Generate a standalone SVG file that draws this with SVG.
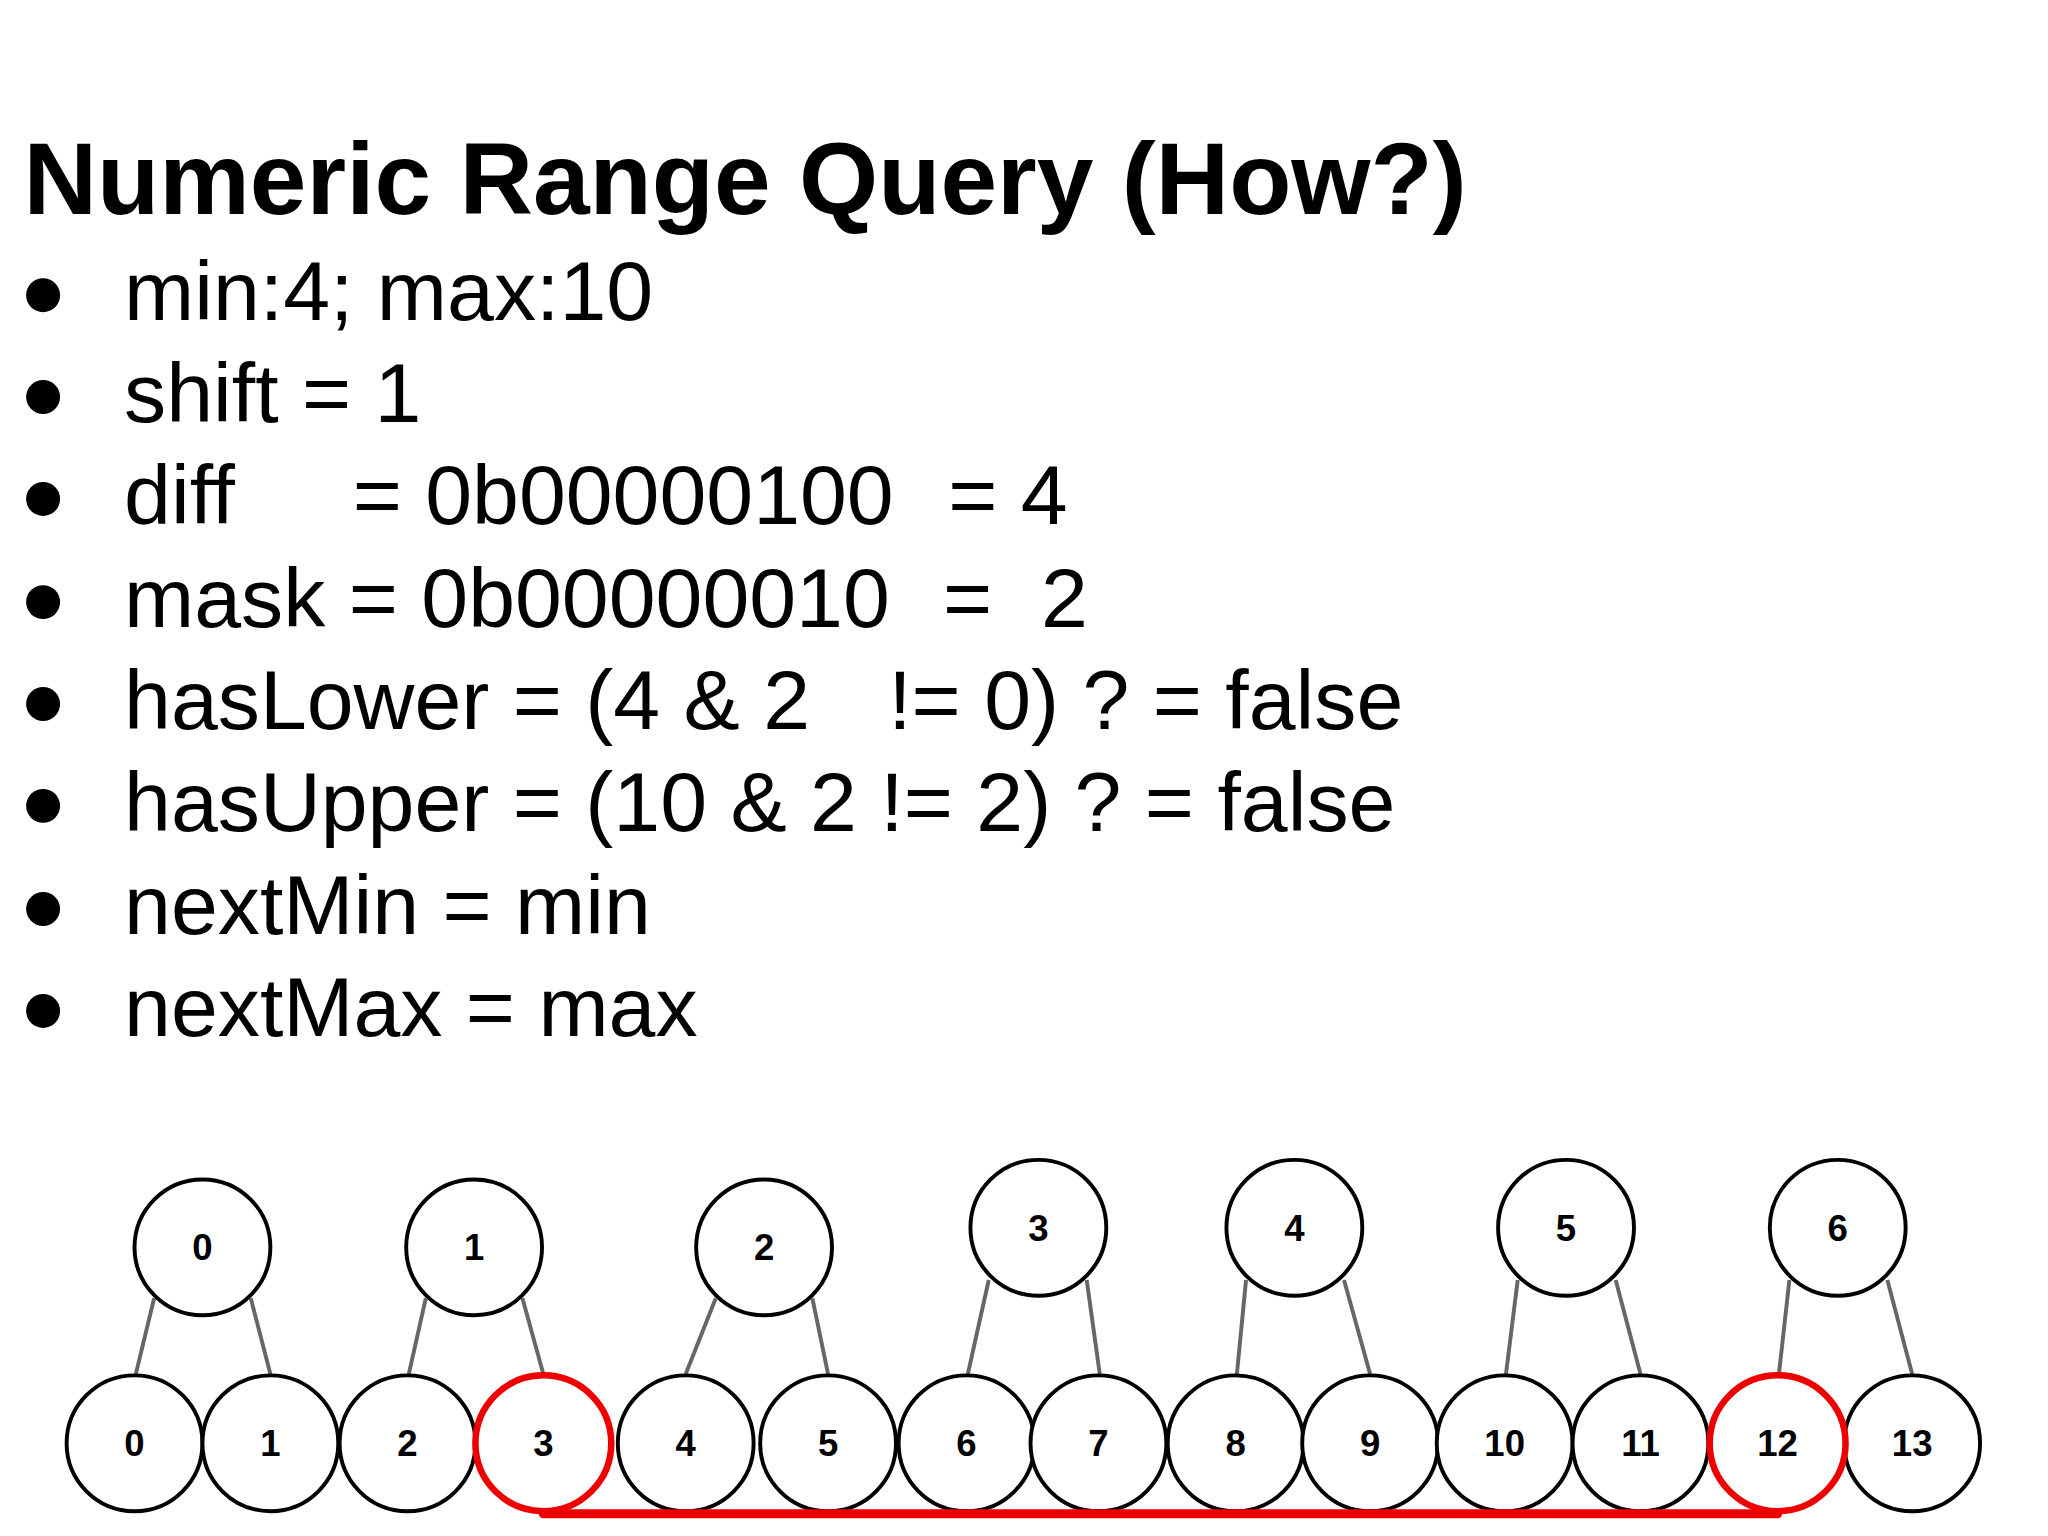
<svg xmlns="http://www.w3.org/2000/svg" width="2048" height="1536" viewBox="0 0 2048 1536">
<style>
.t{font-family:"Liberation Sans",Arial,sans-serif;fill:#000}
.b{font-size:64.5px}
.n circle{fill:#fff;stroke:#000;stroke-width:3}
.n.r circle{stroke:#e00;stroke-width:5}
.n text{font-family:"Liberation Sans",Arial,sans-serif;font-weight:bold;font-size:28px;text-anchor:middle}
.e line{stroke:#666;stroke-width:3}
</style>
<rect width="2048" height="1536" fill="#fff"/>
<g transform="scale(1.30612)">
<text class="t" x="18" y="164" font-size="78" font-weight="bold">Numeric Range Query (How?)</text>
<g class="t b" xml:space="preserve">
<circle cx="33" cy="226" r="13"/><text x="95" y="245">min:4; max:10</text>
<circle cx="33" cy="304" r="13"/><text x="95" y="323">shift = 1</text>
<circle cx="33" cy="382" r="13"/><text x="95" y="401">diff<tspan x="270">= 0b00000100</tspan><tspan x="726">= 4</tspan></text>
<circle cx="33" cy="461" r="13"/><text x="95" y="480">mask = 0b00000010<tspan x="722">=</tspan><tspan x="797">2</tspan></text>
<circle cx="33" cy="539" r="13"/><text x="95" y="558">hasLower = (4 &amp; 2<tspan x="680">!= 0) ? = false</tspan></text>
<circle cx="33" cy="617" r="13"/><text x="95" y="636">hasUpper = (10 &amp; 2 != 2) ? = false</text>
<circle cx="33" cy="696" r="13"/><text x="95" y="715">nextMin = min</text>
<circle cx="33" cy="774" r="13"/><text x="95" y="793">nextMax = max</text>
</g>
<g id="connectors" class="e">
<line x1="118" y1="994" x2="104" y2="1052"/><line x1="192" y1="994" x2="207" y2="1052"/>
<line x1="326" y1="994" x2="313" y2="1052"/><line x1="400" y1="994" x2="416" y2="1052"/>
<line x1="548" y1="994" x2="525" y2="1052"/><line x1="622" y1="994" x2="634" y2="1052"/>
<line x1="757" y1="980" x2="741" y2="1052"/><line x1="832" y1="980" x2="842" y2="1052"/>
<line x1="954" y1="980" x2="947" y2="1052"/><line x1="1029" y1="980" x2="1049" y2="1052"/>
<line x1="1162" y1="980" x2="1153" y2="1052"/><line x1="1237" y1="980" x2="1256" y2="1052"/>
<line x1="1370" y1="980" x2="1362" y2="1052"/><line x1="1445" y1="980" x2="1464" y2="1052"/>
</g>
<g id="p0" class="n"><circle cx="155" cy="955" r="52"/><text x="155" y="965">0</text></g>
<g id="p1" class="n"><circle cx="363" cy="955" r="52"/><text x="363" y="965">1</text></g>
<g id="p2" class="n"><circle cx="585" cy="955" r="52"/><text x="585" y="965">2</text></g>
<g id="p3" class="n"><circle cx="795" cy="940" r="52"/><text x="795" y="950">3</text></g>
<g id="p4" class="n"><circle cx="991" cy="940" r="52"/><text x="991" y="950">4</text></g>
<g id="p5" class="n"><circle cx="1199" cy="940" r="52"/><text x="1199" y="950">5</text></g>
<g id="p6" class="n"><circle cx="1407" cy="940" r="52"/><text x="1407" y="950">6</text></g>
<g id="c0" class="n"><circle cx="103" cy="1105" r="52"/><text x="103" y="1115">0</text></g>
<g id="c1" class="n"><circle cx="207" cy="1105" r="52"/><text x="207" y="1115">1</text></g>
<g id="c2" class="n"><circle cx="312" cy="1105" r="52"/><text x="312" y="1115">2</text></g>
<g id="c4" class="n"><circle cx="525" cy="1105" r="52"/><text x="525" y="1115">4</text></g>
<g id="c5" class="n"><circle cx="634" cy="1105" r="52"/><text x="634" y="1115">5</text></g>
<g id="c6" class="n"><circle cx="740" cy="1105" r="52"/><text x="740" y="1115">6</text></g>
<g id="c7" class="n"><circle cx="841" cy="1105" r="52"/><text x="841" y="1115">7</text></g>
<g id="c8" class="n"><circle cx="946" cy="1105" r="52"/><text x="946" y="1115">8</text></g>
<g id="c9" class="n"><circle cx="1049" cy="1105" r="52"/><text x="1049" y="1115">9</text></g>
<g id="c10" class="n"><circle cx="1152" cy="1105" r="52"/><text x="1152" y="1115">10</text></g>
<g id="c11" class="n"><circle cx="1256" cy="1105" r="52"/><text x="1256" y="1115">11</text></g>
<g id="c13" class="n"><circle cx="1464" cy="1105" r="52"/><text x="1464" y="1115">13</text></g>
<g id="c3" class="n r"><circle cx="416" cy="1105" r="52"/><text x="416" y="1115">3</text></g>
<g id="c12" class="n r"><circle cx="1361" cy="1105" r="52"/><text x="1361" y="1115">12</text></g>
<line x1="416" y1="1159" x2="1361" y2="1159" stroke="#e00" stroke-width="7" stroke-linecap="round"/>
</g>
</svg>
